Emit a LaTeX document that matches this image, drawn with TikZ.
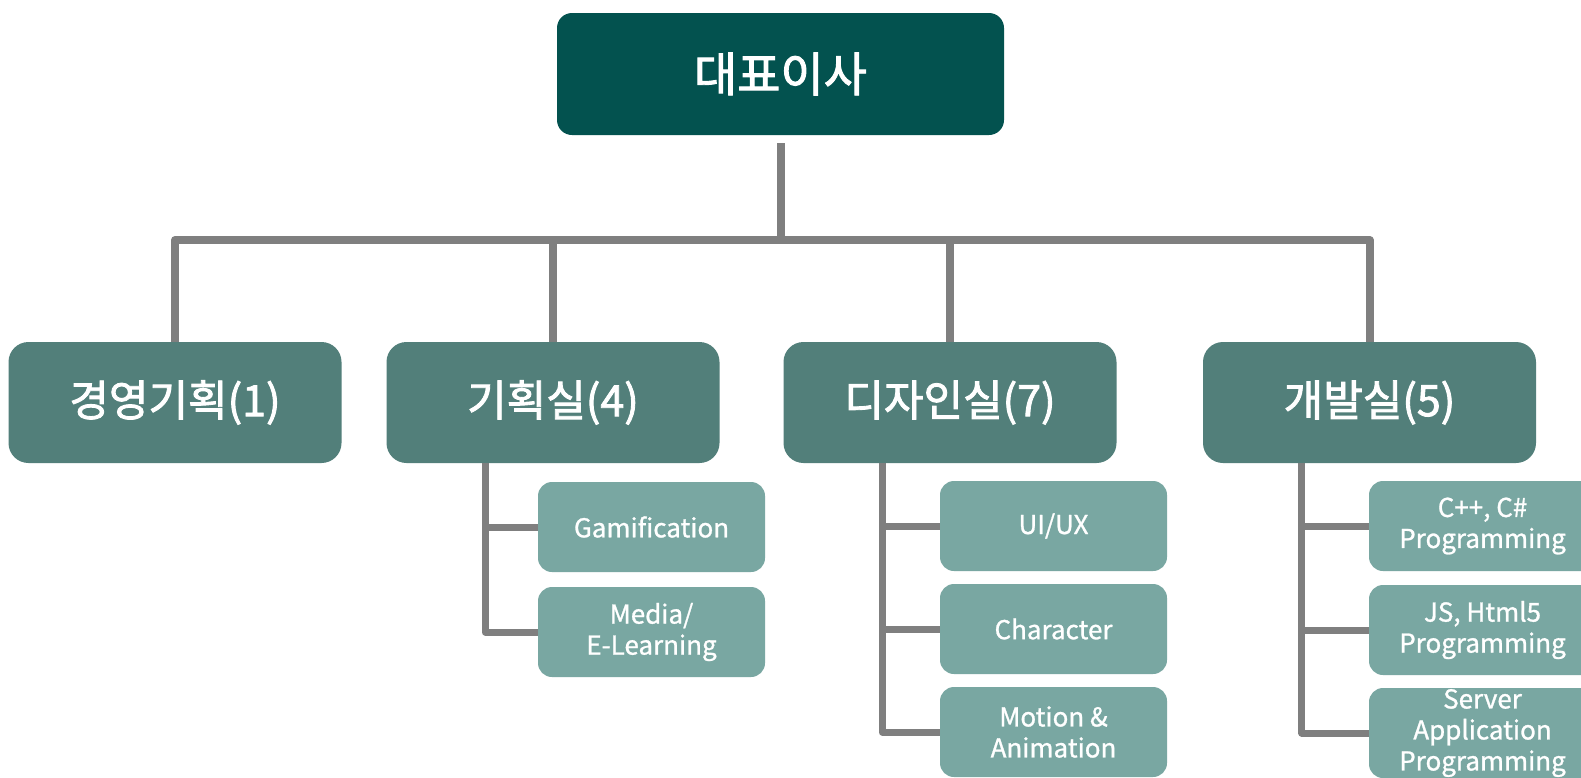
\documentclass[tikz,border=0pt]{standalone}
\usepackage{fontspec}
\setmainfont{Noto Sans CJK KR}
\newfontfamily\heavyfont[FakeBold=2]{Noto Sans CJK KR}
\newfontfamily\semifont[FakeBold=1]{Noto Sans CJK KR}
\definecolor{topc}{HTML}{03524F}
\definecolor{midc}{HTML}{527F7A}
\definecolor{subc}{HTML}{79A7A2}
\definecolor{linec}{HTML}{7F7F7F}
\begin{document}
\begin{tikzpicture}[x=1pt,y=-1pt,
  topbox/.style={fill=topc,rounded corners=15pt,minimum width=447pt,minimum height=122pt,inner sep=0pt,text=white,font=\heavyfont\fontsize{47}{50}\selectfont},
  midbox/.style={fill=midc,rounded corners=20pt,minimum width=333pt,minimum height=121pt,inner sep=0pt,text=white,font=\heavyfont\fontsize{43}{46}\selectfont},
  subbox/.style={fill=subc,rounded corners=14pt,minimum width=227pt,minimum height=90pt,inner sep=0pt,text=white,align=center,font=\semifont\fontsize{26}{31}\selectfont},
  conn/.style={draw=linec,line width=8pt,line join=round},
  subconn/.style={draw=linec,line width=7pt,line join=round}]
\clip (0,0) rectangle (1581,777);
\fill[white] (0,0) rectangle (1581,777);

\node[topbox] (top) at (780.5,74) {대표이사};

\node[midbox] (m1) at (175,402.5) {경영기획(1)};
\node[midbox] (m2) at (553,402.5) {기획실(4)};
\node[midbox] (m3) at (950,402.5) {디자인실(7)};
\node[midbox] (m4) at (1369.5,402.5) {개발실(5)};

\node[subbox] (g1) at (651.5,527) {Gamification};
\node[subbox] (g2) at (651.5,632) {Media/\\E-Learning};

\node[subbox] (d1) at (1053.5,526) {UI/UX};
\node[subbox] (d2) at (1053.5,629) {Character};
\node[subbox] (d3) at (1053.5,732) {Motion \&\\Animation};

\node[subbox] (v1) at (1482.5,526) {C++, C\#\\Programming};
\node[subbox] (v2) at (1482.5,630) {JS, Html5\\Programming};
\node[subbox] (v3) at (1482.5,733) {Server\\Application\\Programming};

\coordinate (bus) at (780.5,240);
\draw[conn] ([yshift=-8pt]top.south) -- (bus);
\draw[conn] (m1.north) -- (m1.north |- bus) -- (m4.north |- bus) -- (m4.north);
\draw[conn] (m2.north) -- (m2.north |- bus);
\draw[conn] (m3.north) -- (m3.north |- bus);

\draw[subconn] ([xshift=99pt]m2.south west) |- (g1.west);
\draw[subconn] ([xshift=99pt]m2.south west) |- (g2.west);
\draw[subconn] ([xshift=99pt]m3.south west) |- (d1.west);
\draw[subconn] ([xshift=99pt]m3.south west) |- (d2.west);
\draw[subconn] ([xshift=99pt]m3.south west) |- (d3.west);
\draw[subconn] ([xshift=99pt]m4.south west) |- (v1.west);
\draw[subconn] ([xshift=99pt]m4.south west) |- (v2.west);
\draw[subconn] ([xshift=99pt]m4.south west) |- (v3.west);
\end{tikzpicture}
\end{document}
